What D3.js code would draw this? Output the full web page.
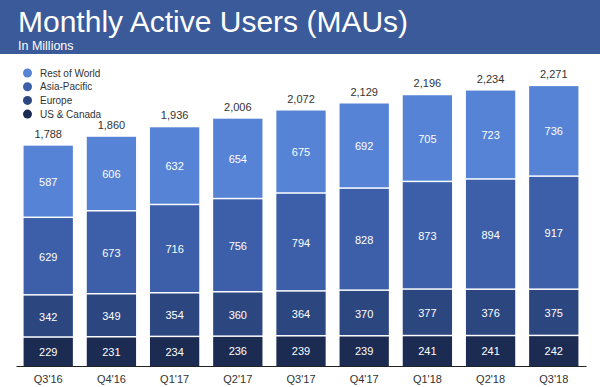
<!DOCTYPE html>
<html><head><meta charset="utf-8">
<script src="https://cdn.jsdelivr.net/npm/d3@7"></script>
<style>body{margin:0;background:#fff;}svg{display:block;font-family:"Liberation Sans",Arial,sans-serif;}</style>
</head><body>
<svg id="c" width="600" height="387"></svg>
<script>
const categories = ["Q3'16","Q4'16","Q1'17","Q2'17","Q3'17","Q4'17","Q1'18","Q2'18","Q3'18"];
const usCanada   = [229,231,234,236,239,239,241,241,242];
const europe     = [342,349,354,360,364,370,377,376,375];
const asiaPac    = [629,673,716,756,794,828,873,894,917];
const restWorld  = [587,606,632,654,675,692,705,723,736];
const totals     = [1788,1860,1936,2006,2072,2129,2196,2234,2271];
const seriesNames = ["US & Canada","Europe","Asia-Pacific","Rest of World"];
const seriesColors = ["#1b2b52","#2c4680","#3d5fa9","#5683d6"];

const svg = d3.select("#c");
svg.append("rect").attr("x",0).attr("y",0).attr("width",600).attr("height",54).attr("fill","#3b5a9a");
svg.append("text").attr("x",18).attr("y",32).attr("fill","#fff").attr("font-size",30).text("Monthly Active Users (MAUs)");
svg.append("text").attr("x",18).attr("y",50).attr("fill","#fff").attr("font-size",12.5).text("In Millions");

const data = categories.map((c,i)=>({cat:c, "US & Canada":usCanada[i], "Europe":europe[i], "Asia-Pacific":asiaPac[i], "Rest of World":restWorld[i], total:totals[i]}));
const stack = d3.stack().keys(seriesNames)(data);

const x = d3.scaleBand().domain(categories).range([16,586]).paddingInner(0.22).paddingOuter(0.12);
const y = d3.scaleLinear().domain([0,2271]).range([366,86]);

const g = svg.append("g");
stack.forEach((s,si)=>{
  g.selectAll(null).data(s).enter().append("rect")
    .attr("x",d=>x(d.data.cat)).attr("width",x.bandwidth())
    .attr("y",d=>y(d[1])+(si<3?0:0)).attr("height",d=>Math.max(0,y(d[0])-y(d[1])-(si>0?1.5:0)))
    .attr("fill",seriesColors[si]);
  g.selectAll(null).data(s).enter().append("text")
    .attr("x",d=>x(d.data.cat)+x.bandwidth()/2).attr("y",d=>(y(d[0])+y(d[1]))/2+4)
    .attr("text-anchor","middle").attr("fill","#fff").attr("font-size",11)
    .text(d=>d3.format(",")(d[1]-d[0]));
});
g.selectAll(null).data(data).enter().append("text")
  .attr("x",d=>x(d.cat)+x.bandwidth()/2).attr("y",d=>y(d.total)-8)
  .attr("text-anchor","middle").attr("fill","#333").attr("font-size",11)
  .text(d=>d3.format(",")(d.total));

const xa = svg.append("g").attr("transform","translate(0,366)").call(d3.axisBottom(x).tickSize(0).tickPadding(9));
xa.select(".domain").attr("stroke","#222").attr("stroke-width",1.2);
xa.selectAll("text").attr("font-size",11).attr("fill","#333").attr("font-family","Liberation Sans, Arial, sans-serif");

const leg = svg.append("g");
const legOrder = ["Rest of World","Asia-Pacific","Europe","US & Canada"];
legOrder.forEach((n,i)=>{
  const ci = seriesNames.indexOf(n);
  leg.append("circle").attr("cx",27.5).attr("cy",73+i*13.7).attr("r",4.5).attr("fill",seriesColors[ci]);
  leg.append("text").attr("x",40).attr("y",76.5+i*13.7).attr("font-size",10).attr("fill","#333").text(n);
});
</script>
</body></html>
